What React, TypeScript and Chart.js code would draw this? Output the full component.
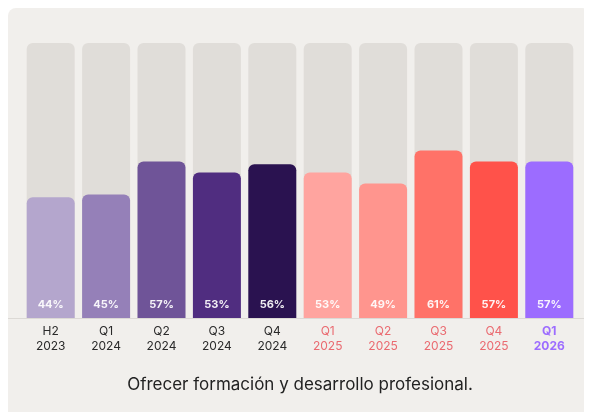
import React, { useEffect, useRef } from "react";
import { Chart, registerables } from "chart.js";

Chart.register(...registerables);

const periods = ["H2", "Q1", "Q2", "Q3", "Q4", "Q1", "Q2", "Q3", "Q4", "Q1"];
const years = ["2023", "2024", "2024", "2024", "2024", "2025", "2025", "2025", "2025", "2026"];
const values = [44, 45, 57, 53, 56, 53, 49, 61, 57, 57];
const trackValues = [100, 100, 100, 100, 100, 100, 100, 100, 100, 100];
const barColors = [
  "#b4a6cd", "#9580b8", "#6f5498", "#502d80", "#2a1250",
  "#ffa49f", "#ff958e", "#ff7268", "#ff524a", "#9c6cff",
];
const tickColors = [
  "#2a2a2a", "#2a2a2a", "#2a2a2a", "#2a2a2a", "#2a2a2a",
  "#ea6a70", "#ea6a70", "#ea6a70", "#ea6a70", "#9c6cff",
];
const titleText = "Ofrecer formación y desarrollo profesional.";

const FONT = "Inter, 'Noto Sans', sans-serif";

export default function App() {
  const ref = useRef<HTMLCanvasElement | null>(null);

  useEffect(() => {
    if (!ref.current) return;
    const baselinePlugin = {
      id: "baselineAndLabels",
      afterDatasetsDraw(chart: any) {
        const ctx = chart.ctx;
        const y0 = chart.scales.y.getPixelForValue(0);
        ctx.save();
        ctx.strokeStyle = "#dcd9d5";
        ctx.lineWidth = 1;
        ctx.beginPath();
        ctx.moveTo(0, Math.round(y0) + 0.5);
        ctx.lineTo(chart.width, Math.round(y0) + 0.5);
        ctx.stroke();
        const meta = chart.getDatasetMeta(1);
        ctx.fillStyle = "rgba(255,255,255,0.92)";
        ctx.font = `700 11px ${FONT}`;
        ctx.textAlign = "center";
        ctx.textBaseline = "middle";
        meta.data.forEach((bar: any, i: number) => {
          ctx.fillText(values[i] + "%", bar.x, y0 - 14);
        });
        ctx.restore();
      },
    };
    const chart = new Chart(ref.current, {
      type: "bar",
      data: {
        labels: periods.map((p, i) => [p, years[i]]),
        datasets: [
          {
            data: trackValues,
            backgroundColor: "#e0ddd9",
            borderRadius: { topLeft: 6, topRight: 6, bottomLeft: 0, bottomRight: 0 },
            borderSkipped: false,
            order: 2,
          },
          {
            data: values,
            backgroundColor: barColors,
            borderRadius: { topLeft: 6, topRight: 6, bottomLeft: 0, bottomRight: 0 },
            borderSkipped: false,
            order: 1,
          },
        ],
      },
      options: {
        responsive: false,
        animation: false,
        grouped: false,
        barPercentage: 0.866,
        categoryPercentage: 1,
        layout: { padding: { left: 15, right: 13, top: 35, bottom: 17 } },
        plugins: {
          legend: { display: false },
          tooltip: { enabled: false },
          title: {
            display: true,
            text: titleText,
            position: "bottom",
            color: "#222",
            font: { family: FONT, size: 17, weight: "400", lineHeight: 1.2 },
            padding: { top: 15, bottom: 0 },
          },
        },
        scales: {
          y: { display: false, min: 0, max: 100 },
          x: {
            grid: { display: false, drawTicks: false },
            border: { display: false },
            ticks: {
              padding: 5,
              color: (c: any) => tickColors[c.index],
              font: (c: any) => ({
                family: FONT,
                size: 12,
                lineHeight: 1.3,
                weight: c.index === 9 ? "700" : "400",
              }),
              maxRotation: 0,
              autoSkip: false,
            },
          },
        },
      } as any,
      plugins: [baselinePlugin],
    });
    return () => chart.destroy();
  }, []);

  return (
    <div
      style={{
        width: 582,
        height: 404,
        background: "#f1efec",
        borderRadius: "8px 8px 0 0",
      }}
    >
      <canvas ref={ref} width={582} height={404} style={{ display: "block" }} />
    </div>
  );
}
